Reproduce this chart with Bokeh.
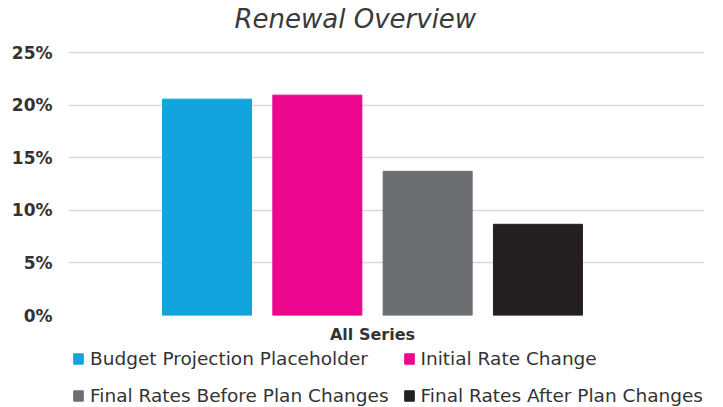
from bokeh.plotting import figure
from bokeh.layouts import column
from bokeh.models import (ColumnDataSource, Range1d, Legend, LegendItem,
                          NumeralTickFormatter, FixedTicker)
from bokeh.embed import file_html
from bokeh.resources import INLINE

title = "Renewal Overview"
series = ["Budget Projection Placeholder", "Initial Rate Change",
          "Final Rates Before Plan Changes", "Final Rates After Plan Changes"]
values = [0.2057, 0.2095, 0.1371, 0.0867]
colors = ["#12A4DC", "#EC068D", "#6D6E71", "#231F20"]
category = "All Series"
y_ticks = [0, 0.05, 0.10, 0.15, 0.20, 0.25]

FONT = "DejaVu Sans"
TXT = "#333333"

src = ColumnDataSource(dict(x=list(range(len(series))), top=values,
                            color=colors, series=series))

# title strip
tf = figure(width=723, height=40, output_backend="svg", toolbar_location=None,
            x_range=Range1d(0, 1), y_range=Range1d(0, 1),
            x_axis_location=None, y_axis_location=None,
            min_border_left=0, min_border_right=0,
            min_border_top=0, min_border_bottom=0)
tf.outline_line_color = None
tf.grid.visible = False
tf.title.text = title
tf.title.align = "left"
tf.title.text_font = FONT
tf.title.text_font_style = "italic"
tf.title.text_font_size = "26px"
tf.title.text_color = "#3a3a3a"
tf.title.standoff = 2
tf.title.offset = 166

# main chart
p = figure(width=723, height=306, output_backend="svg", toolbar_location=None,
           x_range=Range1d(-1.256, 4.51), y_range=Range1d(0, 0.251),
           min_border_left=68, min_border_right=19, min_border_top=11,
           min_border_bottom=31)
p.outline_line_color = None
p.title.text = ""

r = p.vbar(x="x", top="top", width=0.807, color="color", source=src)

p.xaxis.ticker = FixedTicker(ticks=[1.5])
p.xaxis.major_label_overrides = {1.5: category}
p.xaxis.axis_line_color = None
p.xaxis.major_tick_line_color = None
p.xaxis.minor_tick_line_color = None
p.xaxis.major_label_text_font = FONT
p.xaxis.major_label_text_font_style = "bold"
p.xaxis.major_label_text_font_size = "16px"
p.xaxis.major_label_text_color = TXT
p.xaxis.major_label_standoff = 3
p.xgrid.grid_line_color = None

p.yaxis.ticker = FixedTicker(ticks=y_ticks)
p.yaxis.formatter = NumeralTickFormatter(format="0%")
p.yaxis.axis_line_color = None
p.yaxis.major_tick_line_color = None
p.yaxis.minor_tick_line_color = None
p.yaxis.major_label_text_font = FONT
p.yaxis.major_label_text_font_style = "bold"
p.yaxis.major_label_text_font_size = "17px"
p.yaxis.major_label_text_color = TXT
p.yaxis.major_label_standoff = 10
p.ygrid.grid_line_color = "#d9d9d9"
p.ygrid.grid_line_width = 1.5

# legend strip below the chart
lg = figure(width=723, height=61, output_backend="svg", toolbar_location=None,
            x_range=Range1d(-1.256, 4.51), y_range=Range1d(5, 6),
            x_axis_location=None, y_axis_location=None,
            min_border_left=0, min_border_right=0,
            min_border_top=0, min_border_bottom=0)
lg.outline_line_color = None
lg.grid.visible = False
lr = lg.vbar(x="x", top="top", width=0.807, color="color", source=src)

# column-major fill: col 1 = items 0,2 ; col 2 = items 1,3
order = [0, 2, 1, 3]
items = [LegendItem(label=series[i], renderers=[lr], index=i) for i in order]
legend = Legend(items=items, ncols=2, location=(4, 0),
                label_text_font=FONT, label_text_font_size="18.5px",
                label_text_color=TXT, glyph_width=12, glyph_height=13,
                label_standoff=6, spacing=14, padding=0, margin=0,
                border_line_color=None, background_fill_alpha=0,
                label_height=23)
lg.add_layout(legend, "center")

layout = column(tf, p, lg, spacing=0)
open("out.html", "w").write(file_html(layout, INLINE))
